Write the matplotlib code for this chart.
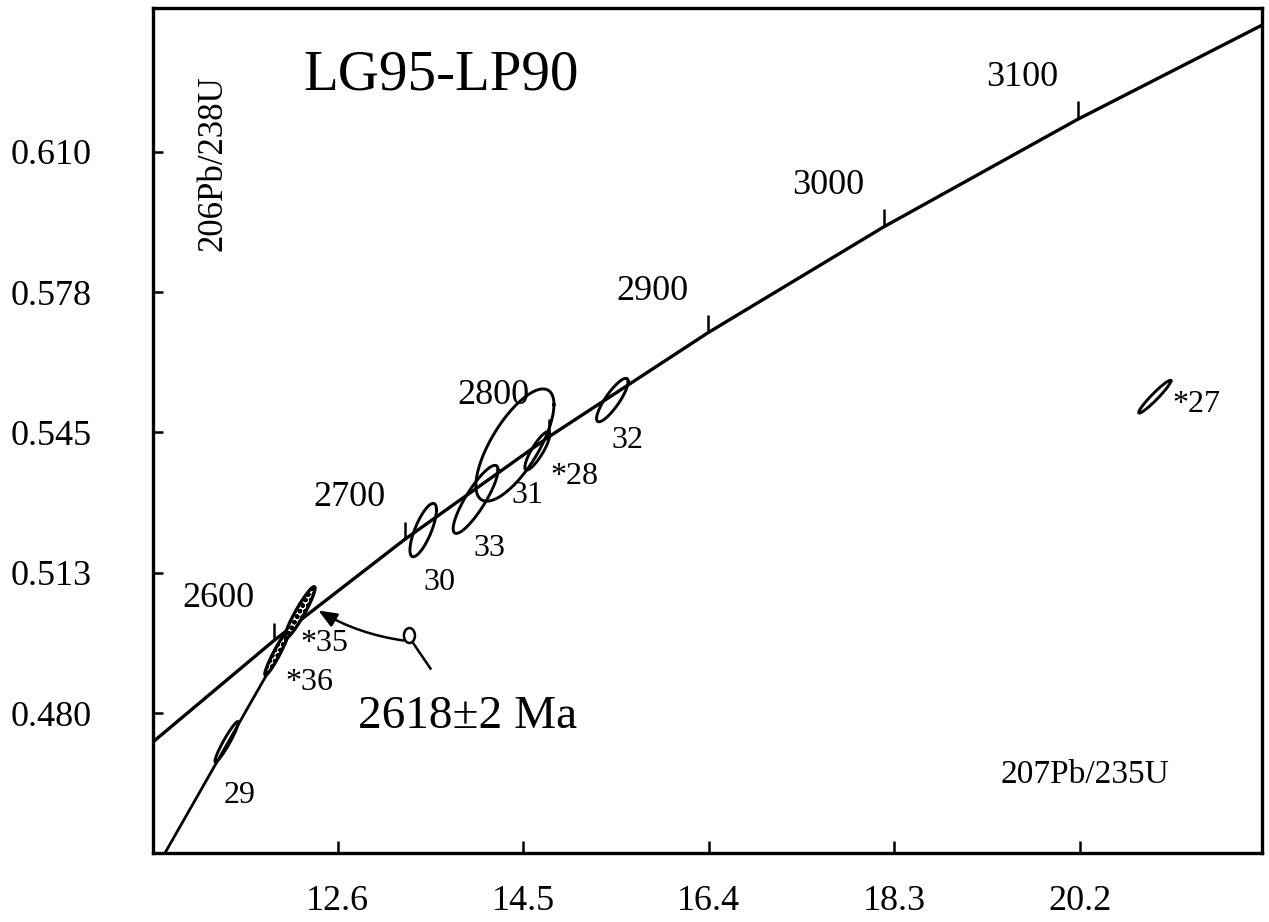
import numpy as np
import matplotlib.pyplot as plt
from matplotlib.patches import Ellipse

plt.rcParams['font.family'] = ['Liberation Serif', 'DejaVu Serif']
plt.rcParams['hatch.linewidth'] = 1.6

# Concordia (207Pb/235U, 206Pb/238U) read at 100 Ma nodes
conc_age = [2450, 2500, 2600, 2700, 2800, 2900, 3000, 3100, 3200]
conc_x = [10.166, 10.730, 11.944, 13.283, 14.762, 16.393, 18.193, 20.180, 22.371]
conc_y = [0.4624, 0.4738, 0.4968, 0.5202, 0.5440, 0.5681, 0.5926, 0.6175, 0.6428]
age_ticks = [2600, 2700, 2800, 2900, 3000, 3100]

# spots: ratios, half widths and error correlation
spot_lbl = ['29', '*36', '*35', '30', '33', '31', '*28', '32', '*27']
spot_x = [11.46, 11.972, 12.211, 13.474, 14.011, 14.414, 14.644, 15.4125, 20.971]
spot_y = [0.47335, 0.49383, 0.50328, 0.52239, 0.5295, 0.54208, 0.54074, 0.5525, 0.55327]
spot_sx = [0.12, 0.12, 0.154, 0.136, 0.23, 0.40, 0.128, 0.162, 0.165]
spot_sy = [0.0047, 0.00503, 0.00598, 0.00618, 0.00788, 0.0130, 0.00445, 0.00503, 0.0038]
spot_rho = [0.95, 0.95, 0.94, 0.75, 0.86, 0.72, 0.85, 0.85, 0.96]
spot_fill = [False, True, True, False, False, False, False, False, False]

# discordia: lower and upper intercept
disc_x = [0.173, 12.175]
disc_y = [0.0255, 0.50098]
upper_age = '2618±2 Ma'

xticks = [12.6, 14.5, 16.4, 18.3, 20.2]
yticks = [0.480, 0.5125, 0.545, 0.5775, 0.610]
ytick_lbl = ['0.480', '0.513', '0.545', '0.578', '0.610']

# label offsets (pixels) relative to spot centres
lbl_off = [(13, -54), (33, -29), (24, -31), (16, -52), (14, -49),
           (12, -50), (37, -26), (15, -40), (42, -8)]

W, H = 1269, 922
fig = plt.figure(figsize=(W / 100, H / 100), dpi=100)
ax = fig.add_axes([153 / W, (H - 853) / H, (1262 - 153) / W, (853 - 8) / H])
ax.set_xlim(10.705, 22.07)
ax.set_ylim(0.4476, 0.6433)

for s in ax.spines.values():
    s.set_linewidth(2.4)

ax.set_xticks(xticks)
ax.set_xticklabels([f'{v:.1f}' for v in xticks])
ax.set_yticks(yticks)
ax.set_yticklabels(ytick_lbl)
ax.tick_params(axis='x', direction='in', length=9, width=1.8, pad=23, labelsize=26)
ax.tick_params(axis='y', direction='in', length=7, width=1.8, pad=44, labelsize=26)


def off(x, y, dx, dy):
    p = ax.transData.transform((x, y))
    return ax.transData.inverted().transform((p[0] + dx, p[1] + dy))


# concordia
ax.plot(conc_x, conc_y, color='k', lw=2.4)
for a in age_ticks:
    i = conc_age.index(a)
    ax.plot(conc_x[i], conc_y[i], marker=2, ms=13, mew=1.8, color='k')
    ax.annotate(str(a), (conc_x[i], conc_y[i]), xytext=(-40, 30),
                textcoords='offset points', ha='center', va='center', fontsize=26)

# discordia
ax.plot(disc_x, disc_y, color='k', lw=2.0)

# error ellipses
t = np.linspace(0, 2 * np.pi, 200)
for i in range(len(spot_lbl)):
    ex = spot_x[i] + spot_sx[i] * np.cos(t)
    ey = spot_y[i] + spot_sy[i] * (spot_rho[i] * np.cos(t) + np.sqrt(1 - spot_rho[i] ** 2) * np.sin(t))
    if spot_fill[i]:
        ax.fill(ex, ey, facecolor='white', edgecolor='k', hatch='ooo', lw=2.4, zorder=3)
    else:
        ax.plot(ex, ey, color='k', lw=2.1, zorder=3)
    dx, dy = lbl_off[i]
    ax.annotate(spot_lbl[i], (spot_x[i], spot_y[i]), xytext=(dx * 0.72, dy * 0.72),
                textcoords='offset points', ha='center', va='center', fontsize=23)

# hand drawn arrow pointing at the upper intercept
ux, uy = disc_x[1], disc_y[1]
ax.annotate('', xy=off(ux, uy, 22, 12), xytext=off(ux, uy, 107, -18),
            arrowprops=dict(arrowstyle='-|>,head_length=1.1,head_width=0.45',
                            connectionstyle='arc3,rad=-0.1', lw=1.8, color='k',
                            shrinkA=0, shrinkB=0))
lc = off(ux, uy, 113, -13)
ax.add_patch(Ellipse(lc, 11 / 97.5, 15 / 4317, angle=0, fill=False, lw=1.8, color='k'))
t0 = off(ux, uy, 117, -21)
t1 = off(ux, uy, 134, -46)
ax.plot([t0[0], t1[0]], [t0[1], t1[1]], color='k', lw=1.8)

fig.text(441 / W, 1 - 75 / H, 'LG95-LP90', ha='center', va='center', fontsize=41)
fig.text(213 / W, 1 - 163 / H, '206Pb/238U', rotation=90, ha='center', va='center', fontsize=25)
fig.text(1085 / W, 1 - 775 / H, '207Pb/235U', ha='center', va='center', fontsize=24)
fig.text(468 / W, 1 - 717 / H, upper_age, ha='center', va='center', fontsize=34)

fig.savefig('out.png', dpi=100)
